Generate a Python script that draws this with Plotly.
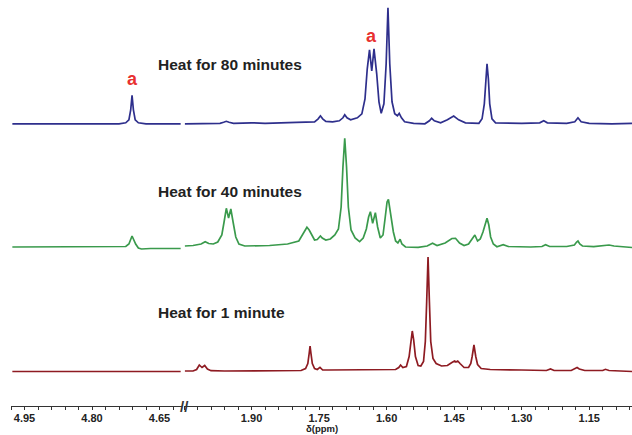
import plotly.graph_objects as go

# ---------------- data (ppm, intensity above each spectrum's baseline) ----------------
# Heat for 80 minutes (blue)
top_left_ppm = [4.977, 4.74, 4.725, 4.718, 4.714, 4.711, 4.708, 4.704, 4.697, 4.68, 4.603]
top_left_int = [0, 0, 1, 4, 14, 28.5, 14, 4, 1, 0, 0]
top_right_ppm = [2.048, 1.97, 1.962, 1.956, 1.950, 1.94, 1.90, 1.87, 1.80, 1.76, 1.752, 1.747, 1.742,
                 1.735, 1.72, 1.705, 1.697, 1.693, 1.688, 1.68, 1.665, 1.655, 1.648, 1.643, 1.638,
                 1.633, 1.628, 1.622, 1.617, 1.612, 1.606, 1.601, 1.597, 1.593, 1.588, 1.582, 1.576,
                 1.572, 1.567, 1.56, 1.54, 1.515, 1.505, 1.500, 1.494, 1.48, 1.465, 1.451, 1.44,
                 1.425, 1.395, 1.388, 1.383, 1.380, 1.377, 1.374, 1.371, 1.366, 1.358, 1.30, 1.26,
                 1.251, 1.243, 1.20, 1.182, 1.175, 1.168, 1.15, 1.10, 1.055]
top_right_int = [0, 0.5, 1.5, 2.5, 1.5, 0.5, 1, 0.5, 1.5, 2, 5, 8, 5,
                 2.5, 2, 3, 6, 9, 6, 4, 6, 10, 25, 55, 74,
                 53, 75, 50, 22, 10.5, 20, 60, 116, 60, 22, 10, 8,
                 10.5, 6, 2, 0.5, 0, 3, 5.5, 3, 1, 4, 7.8, 4,
                 1, 0.5, 5, 20, 45, 60, 45, 20, 5, 1, 0.5, 1,
                 3, 1, 0.5, 2, 6, 2, 0.5, 0, 0.5]

# Heat for 40 minutes (green)
mid_left_ppm = [4.977, 4.74, 4.725, 4.718, 4.713, 4.711, 4.708, 4.703, 4.697, 4.69, 4.67, 4.603]
mid_left_int = [0, 0, 0.5, 3, 8, 11, 8, 3, -1, -2, -1.5, -1.5]
mid_right_ppm = [2.048, 2.03, 2.012, 2.003, 1.995, 1.985, 1.975, 1.966, 1.961, 1.956, 1.951, 1.946,
                 1.941, 1.935, 1.928, 1.915, 1.86, 1.82, 1.795, 1.785, 1.777, 1.772, 1.767, 1.760,
                 1.754, 1.750, 1.747, 1.743, 1.735, 1.725, 1.715, 1.707, 1.701, 1.697, 1.693, 1.689,
                 1.685, 1.679, 1.670, 1.66, 1.652, 1.645, 1.640, 1.636, 1.631, 1.625, 1.620, 1.614,
                 1.608, 1.603, 1.599, 1.596, 1.592, 1.589, 1.585, 1.58, 1.575, 1.570, 1.566, 1.558,
                 1.53, 1.51, 1.498, 1.488, 1.47, 1.455, 1.447, 1.438, 1.428, 1.418, 1.41, 1.404,
                 1.398, 1.392, 1.386, 1.381, 1.377, 1.373, 1.369, 1.363, 1.355, 1.341, 1.33, 1.28,
                 1.255, 1.247, 1.238, 1.20, 1.183, 1.178, 1.175, 1.171, 1.165, 1.14, 1.115, 1.106,
                 1.095, 1.075, 1.055]
mid_right_int = [1, 1.5, 3, 5.3, 3.5, 3, 5, 12, 25, 38.7, 29, 38,
                 25, 10, 3, 1, 1.5, 3, 6, 14, 19.7, 17, 13, 7,
                 7.5, 10, 11, 9, 7, 8, 12, 18, 40, 80, 108.7, 80,
                 40, 17, 9, 5.3, 9, 18, 30, 35.3, 23.7, 34.3, 20, 9,
                 12, 30, 45, 47.7, 35, 25, 15, 6, 4, 7.7, 3, 0,
                 -0.3, 1, 3.7, 1.5, 4, 8.5, 8.7, 4, 1.5, 3, 8, 12,
                 6, 8, 15, 24, 28.7, 22, 10, 3, 0.3, 2.3, 0.5, 0,
                 0.5, 2.3, 0.5, 0.5, 2, 5, 6, 3, 1, 0.3, 1.5, 2,
                 1, 0, -0.5]

# Heat for 1 minute (dark red)
bot_left_ppm = [4.977, 4.603]
bot_left_int = [0, 0]
bot_right_ppm = [2.048, 2.03, 2.022, 2.016, 2.010, 2.004, 1.998, 1.99, 1.96, 1.90, 1.82, 1.79, 1.78,
                 1.775, 1.772, 1.770, 1.768, 1.765, 1.760, 1.754, 1.748, 1.742, 1.73, 1.70, 1.60,
                 1.58, 1.573, 1.569, 1.564, 1.556, 1.550, 1.546, 1.543, 1.540, 1.536, 1.530, 1.524,
                 1.518, 1.514, 1.511, 1.508, 1.505, 1.502, 1.497, 1.490, 1.478, 1.465, 1.455, 1.449,
                 1.446, 1.442, 1.437, 1.428, 1.418, 1.413, 1.410, 1.406, 1.402, 1.398, 1.39, 1.37,
                 1.30, 1.245, 1.236, 1.228, 1.19, 1.182, 1.177, 1.172, 1.16, 1.12, 1.114, 1.106, 1.055]
bot_right_int = [0.5, 0.5, 2, 6.5, 4, 6, 2.5, 0.8, 0.5, 0.5, 0.5, 1, 3,
                 8, 18, 25.5, 18, 8, 3, 2, 4.2, 1.5, 1.5, 1.5, 1.5,
                 2, 4, 6.5, 4, 5, 15, 32, 40.5, 32, 15, 6, 5.5,
                 10, 30, 70, 114.5, 70, 30, 13, 8, 5.5, 6, 9, 10.5,
                 9.5, 10.5, 8, 4, 4, 8, 15, 26.5, 15, 7, 3, 2,
                 1.5, 1, 2.5, 1, 1, 3, 4, 2.5, 1, 1, 2.2, 1, 0]

spectrum_labels = ["Heat for 80 minutes", "Heat for 40 minutes", "Heat for 1 minute"]
peak_a_ppm = [4.711, 1.633]
left_ticks = [4.95, 4.80, 4.65]
right_ticks = [1.90, 1.75, 1.60, 1.45, 1.30, 1.15]

# ---------------- layout constants ----------------
W, H = 632, 435
ML, MR, MT, MB = 11, 0, 0, 29
PW = W - ML - MR
PH = H - MT - MB
offsets = [247.7, 124.5, 0.0]          # vertical stacking (plot units = px)
y_range = [-34.5, PH - 34.5]
colors = ["#2E2F8C", "#3A9A4C", "#8E1B22"]
label_red = "#E8312F"

fig = go.Figure()
series = [
    (top_left_ppm, top_left_int, top_right_ppm, top_right_int),
    (mid_left_ppm, mid_left_int, mid_right_ppm, mid_right_int),
    (bot_left_ppm, bot_left_int, bot_right_ppm, bot_right_int),
]
for (lp, li, rp, ri), off, col in zip(series, offsets, colors):
    fig.add_trace(go.Scatter(x=lp, y=[v + off for v in li], mode="lines",
                             line=dict(color=col, width=1.7), xaxis="x", yaxis="y",
                             hoverinfo="skip"))
    fig.add_trace(go.Scatter(x=rp, y=[v + off for v in ri], mode="lines",
                             line=dict(color=col, width=1.7), xaxis="x2", yaxis="y",
                             hoverinfo="skip"))

tickfont = dict(family="Liberation Sans, Arial, sans-serif", size=11, color="#222", weight="bold")
axis_common = dict(showline=True, linecolor="#333", linewidth=1, ticks="outside", ticklen=3,
                   tickcolor="#333", tickwidth=1, showgrid=False, zeroline=False,
                   tickfont=tickfont, anchor="y", tickmode="array", ticklabelstandoff=-1)

left_dom_end = 171 / PW
right_dom_start = 173 / PW
fig.update_layout(
    width=W, height=H,
    margin=dict(l=ML, r=MR, t=MT, b=MB),
    paper_bgcolor="white", plot_bgcolor="white",
    showlegend=False,
    xaxis=dict(domain=[0, left_dom_end], range=[4.98, 4.60],
               tickvals=left_ticks, ticktext=[f"{v:.2f}" for v in left_ticks],
               minor=dict(tick0=4.95, dtick=0.03, ticklen=3, ticks="outside", tickcolor="#333"),
               **axis_common),
    xaxis2=dict(domain=[right_dom_start, 1], range=[2.05, 1.055],
                tickvals=right_ticks, ticktext=[f"{v:.2f}" for v in right_ticks],
                minor=dict(tick0=1.90, dtick=0.03, ticklen=3, ticks="outside", tickcolor="#333"),
                **axis_common),
    yaxis=dict(range=y_range, visible=False, anchor="x"),
)

# spectrum captions
txt_font = dict(family="Liberation Sans, Arial, sans-serif", size=15.5, color="#222", weight="bold")
caption_px_y = [64, 191, 312.5]
for lab, py in zip(spectrum_labels, caption_px_y):
    fig.add_annotation(text=lab, xref="paper", yref="paper", x=(156 - ML) / PW,
                       y=(PH - py) / PH, xanchor="left", yanchor="middle",
                       showarrow=False, font=txt_font)

# "a" peak labels
a_px_y = [79, 36]
a_axes = ["x", "x2"]
for ppm, py, ax in zip(peak_a_ppm, a_px_y, a_axes):
    fig.add_annotation(text="a", xref=ax, yref="y", x=ppm, y=(PH - py) + y_range[0],
                       xanchor="center", yanchor="middle", showarrow=False,
                       font=dict(family="Liberation Sans, Arial, sans-serif", size=18,
                                 color=label_red, weight="bold"))

# axis break mark
fig.add_annotation(text="//", xref="paper", yref="paper", x=(184.5 - ML) / PW, y=0,
                   xanchor="center", yanchor="middle", showarrow=False,
                   font=dict(family="Liberation Sans, Arial, sans-serif", size=15, color="#333",
                             weight="bold"))

# axis title
fig.add_annotation(text="δ(ppm)", xref="paper", yref="paper", x=(322 - ML) / PW,
                   y=-22.5 / PH, xanchor="center", yanchor="middle", showarrow=False,
                   font=dict(family="Liberation Sans, Arial, sans-serif", size=9.5, color="#222",
                             weight="bold"))

fig.write_html("out.html", config={"displayModeBar": False},
               post_script="document.body.style.margin='0px';document.body.style.padding='0px';")
